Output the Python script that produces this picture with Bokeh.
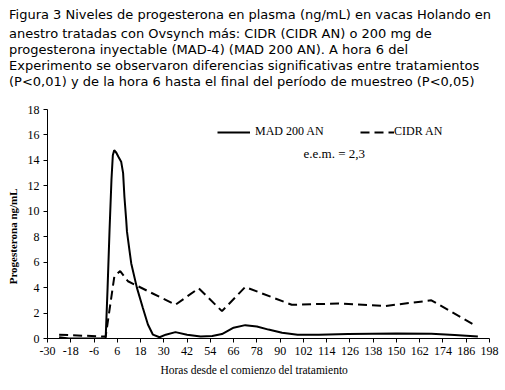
from bokeh.plotting import figure
from bokeh.models import Range1d, Label, Legend, LegendItem, FixedTicker, Title
from bokeh.embed import file_html
from bokeh.resources import INLINE

# ---- data ----
hours_mad = [-24, -19, 0, 1, 2, 3, 3.7, 4.4, 5.5, 6.5, 8, 9, 9.7, 10.6, 11, 12.3, 13.2,
             16.1, 19.2, 21.8, 24.4, 27.8, 31, 36, 42, 49, 55, 60, 66, 72, 78, 84, 91,
             99, 110, 125, 150, 168, 180, 192]
mad200 = [0.1, 0.0, 0.0, 4.0, 8.5, 12.5, 14.4, 14.8, 14.6, 14.3, 13.9, 13.0, 11.1, 9.3, 8.4,
          6.9, 5.9, 4.0, 2.4, 1.1, 0.3, 0.1, 0.3, 0.5, 0.3, 0.15, 0.2, 0.35, 0.85, 1.05, 0.95,
          0.7, 0.45, 0.3, 0.3, 0.35, 0.4, 0.37, 0.28, 0.15]

hours_cidr = [-24, 0, 4.5, 7.5, 11.5, 36, 48, 60, 72, 96, 120, 144, 168, 191]
cidr = [0.3, 0.15, 4.9, 5.3, 4.5, 2.65, 3.95, 2.15, 4.05, 2.65, 2.75, 2.55, 3.0, 1.0]

x_ticks = [-30, -18, -6, 6, 18, 30, 42, 54, 66, 78, 90, 102, 114, 126, 138, 150, 162, 174, 186, 198]
y_ticks = [0, 2, 4, 6, 8, 10, 12, 14, 16, 18]

title_lines = [
    "Figura 3 Niveles de progesterona en plasma (ng/mL) en vacas Holando en",
    "anestro tratadas con Ovsynch más: CIDR (CIDR AN) o 200 mg de",
    "progesterona inyectable (MAD-4) (MAD 200 AN). A hora 6 del",
    "Experimento se observaron diferencias significativas entre tratamientos",
    "(P<0,01) y de la hora 6 hasta el final del período de muestreo (P<0,05)",
]
series_names = ["MAD 200 AN", "CIDR AN"]
note_text = "e.e.m. = 2,3"
x_title = "Horas desde el comienzo del tratamiento"
y_title = "Progesterona ng/mL"

# ---- figure ----
W, H = 505, 390
p = figure(width=W, height=H, output_backend="svg", toolbar_location=None,
           x_range=Range1d(-30, 198), y_range=Range1d(0, 18), title_location=None,
           min_border_left=47, min_border_right=16, min_border_top=109, min_border_bottom=52)
p.outline_line_color = None
p.xgrid.visible = False
p.ygrid.visible = False
p.background_fill_color = "white"
p.border_fill_color = "white"

serif = "'Liberation Serif', serif"
for ax in (p.xaxis[0], p.yaxis[0]):
    ax.major_label_text_font = serif
    ax.major_label_text_font_size = "12px"
    ax.major_label_text_color = "black"
    ax.axis_label_text_font = serif
    ax.axis_label_text_font_size = "11px"
    ax.axis_label_text_color = "black"
    ax.axis_label_text_font_style = "normal"
    ax.axis_line_color = "black"
    ax.major_tick_line_color = "black"
    ax.major_tick_out = 4
    ax.major_tick_in = 0
    ax.minor_tick_line_color = None
    ax.major_label_standoff = 4
    ax.axis_label_standoff = 6

nb = "\u00a0"
p.xaxis[0].ticker = FixedTicker(ticks=x_ticks)
p.xaxis[0].major_label_overrides = {t: str(t) for t in x_ticks}
p.yaxis[0].ticker = FixedTicker(ticks=y_ticks)
p.xaxis[0].axis_label = x_title + nb * 10
p.xaxis[0].axis_label_text_font_size = "11.5px"
p.yaxis[0].axis_label = y_title + nb * 9
p.yaxis[0].axis_label_text_font_style = "bold"

r_mad = p.line(hours_mad, mad200, line_color="black", line_width=2)
r_cidr = p.line(hours_cidr, cidr, line_color="black", line_width=2, line_dash="9 5")

leg1 = Legend(items=[LegendItem(label=series_names[0], renderers=[r_mad])],
              location=(170, 199), orientation="horizontal",
              glyph_width=33, glyph_height=14, label_height=14, label_standoff=5,
              padding=0, margin=0, border_line_color=None, background_fill_alpha=0,
              label_text_font=serif, label_text_font_size="12px", label_text_color="black")
leg2 = Legend(items=[LegendItem(label=series_names[1], renderers=[r_cidr])],
              location=(313, 199), orientation="horizontal",
              glyph_width=34, glyph_height=14, label_height=14, label_standoff=0,
              padding=0, margin=0, border_line_color=None, background_fill_alpha=0,
              label_text_font=serif, label_text_font_size="12px", label_text_color="black")
p.add_layout(leg1)
p.add_layout(leg2)

p.add_layout(Label(x=256, y=185, x_units="screen", y_units="screen", text=note_text,
                   text_font=serif, text_font_size="13px", text_baseline="middle",
                   text_color="black"))

# spacer between the caption and the plot frame (nearest the frame)
p.add_layout(Title(text=nb, align="left", standoff=3.5, text_font="DejaVu Sans",
                   text_font_size="13px", text_color="white"), "above")

# caption lines stacked above the plot; the first one added sits nearest the frame
standoffs = [5.0, -0.6, -0.6, -0.6, -0.6]
for line, so in reversed(list(zip(title_lines, standoffs))):
    p.add_layout(Title(text=line, align="left", offset=-38.5, standoff=so,
                       text_font="DejaVu Sans", text_font_size="13px",
                       text_font_style="normal", text_color="black"), "above")

open("out.html", "w").write(file_html(p, INLINE))
